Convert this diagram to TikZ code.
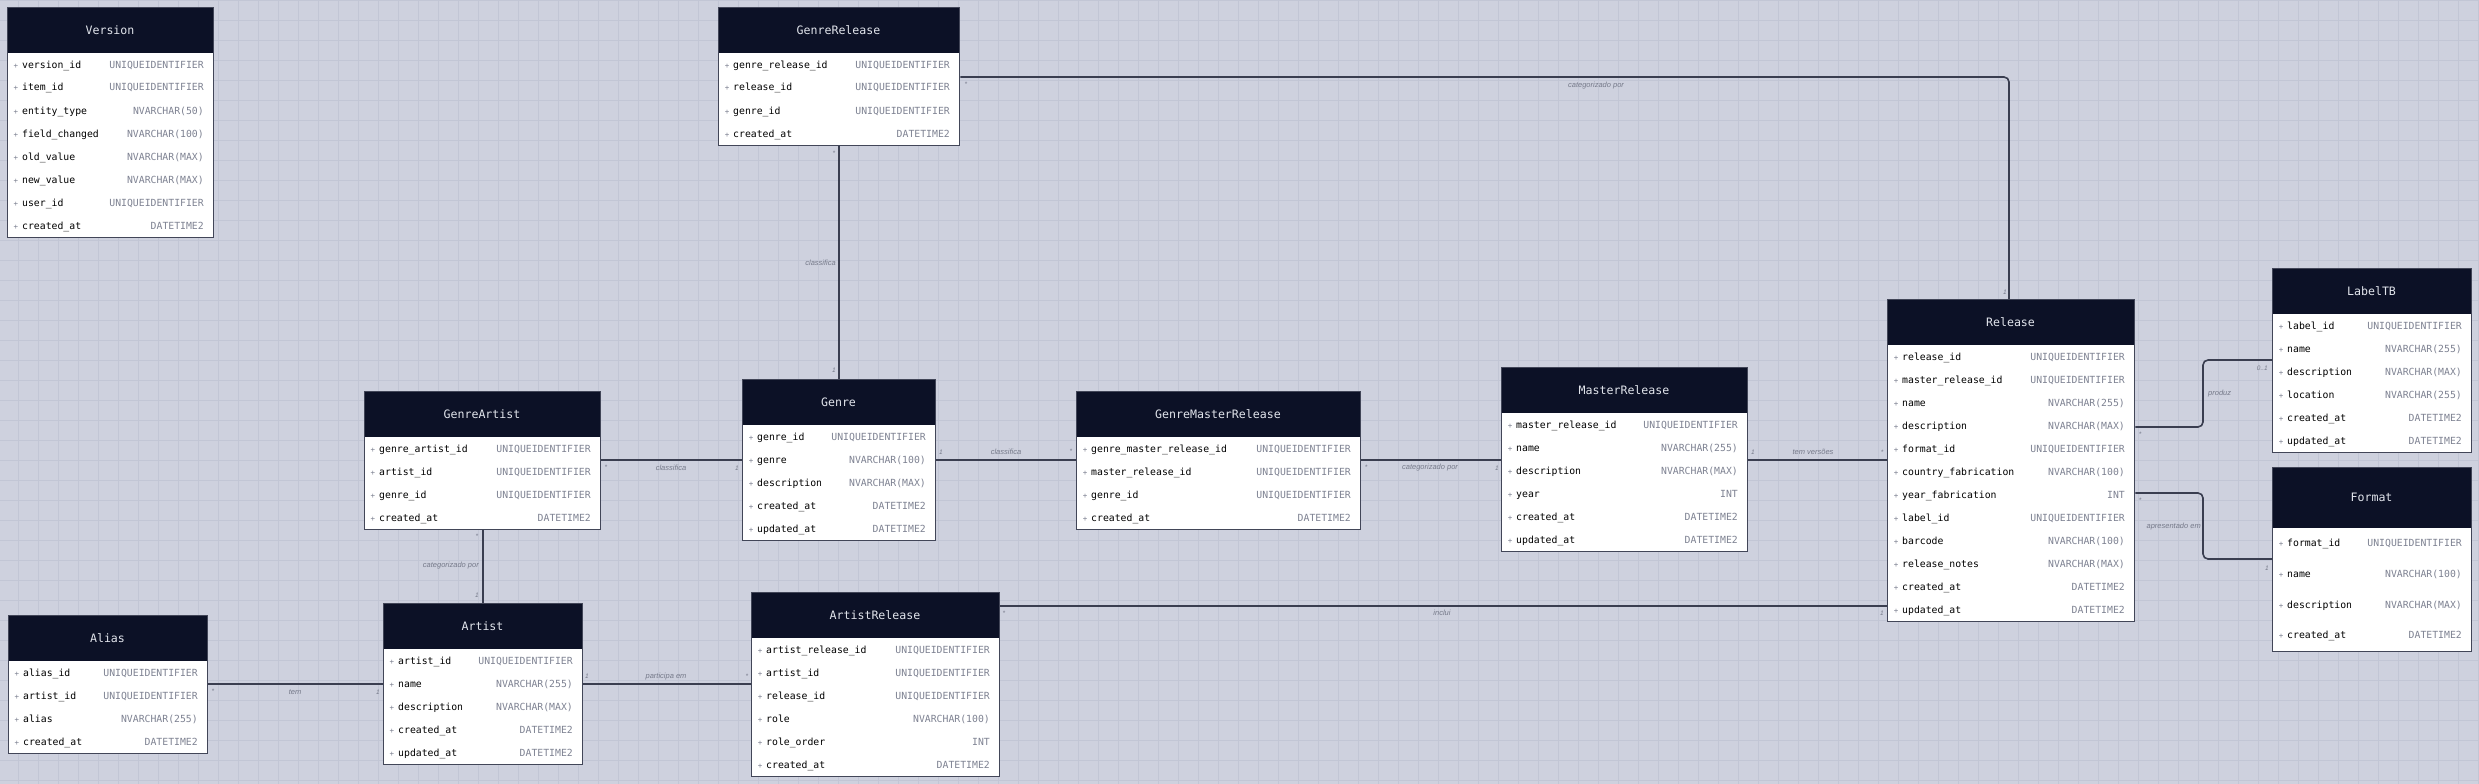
\documentclass[tikz,border=0pt]{standalone}
\usepackage{fontspec}
\setmonofont{DejaVu Sans Mono}
\setsansfont{Liberation Sans}

\definecolor{canvas}{RGB}{206,209,222}
\definecolor{gridcol}{RGB}{194,198,213}
\definecolor{headbg}{RGB}{12,17,38}
\definecolor{headfg}{RGB}{226,229,236}
\definecolor{boxline}{RGB}{66,70,88}
\definecolor{linkcol}{RGB}{58,62,80}
\definecolor{typegray}{RGB}{126,130,146}
\definecolor{lblgray}{RGB}{118,122,138}

\tikzset{
  erbox/.style={draw=boxline, line width=1.4pt, inner sep=0pt},
  erhead/.style={fill=headbg, text=headfg, inner sep=0pt,
    font=\ttfamily\fontsize{11.6}{13}\selectfont},
  erfield/.style={inner sep=0pt, text height=7pt, text depth=2pt, text=black,
    font=\ttfamily\fontsize{9.8}{11}\selectfont},
  ertype/.style={erfield, text=typegray},
  erplus/.style={erfield, text=typegray, font=\ttfamily\fontsize{7.5}{9}\selectfont},
  link/.style={draw=linkcol, line width=1.6pt},
  rel/.style={inner sep=0pt, text=lblgray, font=\sffamily\itshape\fontsize{7.5}{9}\selectfont},
  card/.style={rel, font=\sffamily\itshape\fontsize{6.5}{8}\selectfont}
}

\newcommand{\erhead}{46}
\newcommand{\erpitch}{23}
% name, left, top, width, rows, title, fields
\newcommand{\erentity}[7]{%
  \pgfmathsetmacro\erh{\erhead+#5*\erpitch}
  \fill[white] (#2,#3) rectangle ++(#4,\erh);
  \node[erhead, minimum width=#4pt, minimum height=\erhead pt] (#1-h)
    at (#2+#4/2,#3+\erhead/2) {#6};
  \foreach \fname/\ftype [count=\i] in {#7} {
    \pgfmathsetmacro\yc{#3+\erhead+\erpitch/2+1+(\i-1)*\erpitch}
    \node[erplus] (#1-p\i) at (#2+9,\yc) {+};
    \node[erfield, anchor=west] (#1-\i) at (#2+15,\yc) {\fname};
    \node[ertype, anchor=east] (#1-t\i) at (#2+#4-9,\yc) {\ftype};
  }
  \node[erbox, minimum width=#4pt, minimum height=\erh pt, anchor=north west] (#1)
    at (#2,#3) {};
}

\begin{document}
\begin{tikzpicture}[x=1pt, y=-1pt]
  \useasboundingbox (0,0) rectangle (2479,784);
  \fill[canvas] (0,0) rectangle (2479,784);
  \foreach \gx in {18,38,...,2478} \draw[gridcol, line width=0.6pt] (\gx,0) -- (\gx,784);
  \foreach \gy in {0,20,...,780} \draw[gridcol, line width=0.6pt] (0,\gy) -- (2479,\gy);

  % bends and levels of the connectors
  \coordinate (midrow) at (0,460);
  \coordinate (artrow) at (0,684);
  \coordinate (incrow) at (0,606);
  \coordinate (topbend) at (2009,77);
  \coordinate (prodA) at (2203,427);
  \coordinate (prodB) at (2203,360);
  \coordinate (apreA) at (2203,493);
  \coordinate (apreB) at (2203,559);

  \erentity{version}{7}{7}{206}{8}{Version}{version\_id/UNIQUEIDENTIFIER, item\_id/UNIQUEIDENTIFIER, entity\_type/NVARCHAR(50), field\_changed/NVARCHAR(100), old\_value/NVARCHAR(MAX), new\_value/NVARCHAR(MAX), user\_id/UNIQUEIDENTIFIER, created\_at/DATETIME2}
  \erentity{genrerelease}{718}{7}{241}{4}{GenreRelease}{genre\_release\_id/UNIQUEIDENTIFIER, release\_id/UNIQUEIDENTIFIER, genre\_id/UNIQUEIDENTIFIER, created\_at/DATETIME2}
  \erentity{genreartist}{364}{391}{236}{4}{GenreArtist}{genre\_artist\_id/UNIQUEIDENTIFIER, artist\_id/UNIQUEIDENTIFIER, genre\_id/UNIQUEIDENTIFIER, created\_at/DATETIME2}
  \erentity{genre}{742}{379}{193}{5}{Genre}{genre\_id/UNIQUEIDENTIFIER, genre/NVARCHAR(100), description/NVARCHAR(MAX), created\_at/DATETIME2, updated\_at/DATETIME2}
  \erentity{alias}{8}{615}{199}{4}{Alias}{alias\_id/UNIQUEIDENTIFIER, artist\_id/UNIQUEIDENTIFIER, alias/NVARCHAR(255), created\_at/DATETIME2}
  \erentity{artist}{383}{603}{199}{5}{Artist}{artist\_id/UNIQUEIDENTIFIER, name/NVARCHAR(255), description/NVARCHAR(MAX), created\_at/DATETIME2, updated\_at/DATETIME2}
  \erentity{artistrelease}{751}{592}{248}{6}{ArtistRelease}{artist\_release\_id/UNIQUEIDENTIFIER, artist\_id/UNIQUEIDENTIFIER, release\_id/UNIQUEIDENTIFIER, role/NVARCHAR(100), role\_order/INT, created\_at/DATETIME2}
  \erentity{genremaster}{1076}{391}{284}{4}{GenreMasterRelease}{genre\_master\_release\_id/UNIQUEIDENTIFIER, master\_release\_id/UNIQUEIDENTIFIER, genre\_id/UNIQUEIDENTIFIER, created\_at/DATETIME2}
  \erentity{master}{1501}{367}{246}{6}{MasterRelease}{master\_release\_id/UNIQUEIDENTIFIER, name/NVARCHAR(255), description/NVARCHAR(MAX), year/INT, created\_at/DATETIME2, updated\_at/DATETIME2}
  \erentity{release}{1887}{299}{247}{12}{Release}{release\_id/UNIQUEIDENTIFIER, master\_release\_id/UNIQUEIDENTIFIER, name/NVARCHAR(255), description/NVARCHAR(MAX), format\_id/UNIQUEIDENTIFIER, country\_fabrication/NVARCHAR(100), year\_fabrication/INT, label\_id/UNIQUEIDENTIFIER, barcode/NVARCHAR(100), release\_notes/NVARCHAR(MAX), created\_at/DATETIME2, updated\_at/DATETIME2}
  \erentity{labeltb}{2272}{268}{199}{6}{LabelTB}{label\_id/UNIQUEIDENTIFIER, name/NVARCHAR(255), description/NVARCHAR(MAX), location/NVARCHAR(255), created\_at/DATETIME2, updated\_at/DATETIME2}
  \renewcommand{\erhead}{61}
  \renewcommand{\erpitch}{30.7}
  \erentity{format}{2272}{467}{199}{4}{Format}{format\_id/UNIQUEIDENTIFIER, name/NVARCHAR(100), description/NVARCHAR(MAX), created\_at/DATETIME2}

  % relations
  \draw[link, rounded corners=5pt] (genrerelease.east |- topbend) -- (topbend) -- (release.north -| topbend);
  \draw[link] (genrerelease.south -| genre.north) -- (genre.north);
  \draw[link] (genreartist.east |- midrow) -- (genre.west |- midrow);
  \draw[link] (genre.east |- midrow) -- (genremaster.west |- midrow);
  \draw[link] (genremaster.east |- midrow) -- (master.west |- midrow);
  \draw[link] (master.east |- midrow) -- (release.west |- midrow);
  \draw[link] (genreartist.south -| artist.north) -- (artist.north);
  \draw[link] (alias.east |- artrow) -- (artist.west |- artrow);
  \draw[link] (artist.east |- artrow) -- (artistrelease.west |- artrow);
  \draw[link] (artistrelease.east |- incrow) -- (release.west |- incrow);
  \draw[link, rounded corners=5pt] (release.east |- prodA) -- (prodA) -- (prodB) -- (labeltb.west |- prodB);
  \draw[link, rounded corners=5pt] (release.east |- apreA) -- (apreA) -- (apreB) -- (format.west |- apreB);

  % relation texts
  \node[card] (c1a) at (966,84) {*};
  \node[rel] (r1) at (1596,86) {categorizado por};
  \node[card] (c1b) at (2005,292) {1};
  \node[card] (c2a) at (834,153) {*};
  \node[rel, anchor=east] (r2) at (836,263) {classifica};
  \node[card] (c2b) at (834,370) {1};
  \node[card] (c3a) at (606,467) {*};
  \node[rel] (r3) at (671,468) {classifica};
  \node[card] (c3b) at (737,468) {1};
  \node[card] (c4a) at (941,452) {1};
  \node[rel] (r4) at (1006,452) {classifica};
  \node[card] (c4b) at (1071,451) {*};
  \node[card] (c5a) at (1366,467) {*};
  \node[rel] (r5) at (1430,468) {categorizado por};
  \node[card] (c5b) at (1497,468) {1};
  \node[card] (c6a) at (1753,452) {1};
  \node[rel] (r6) at (1813,452) {tem versões};
  \node[card] (c6b) at (1882,452) {*};
  \node[card] (c7a) at (477,536) {*};
  \node[rel, anchor=east] (r7) at (479,566) {categorizado por};
  \node[card] (c7b) at (477,595) {1};
  \node[card] (c8a) at (213,691) {*};
  \node[rel] (r8) at (295,692) {tem};
  \node[card] (c8b) at (378,692) {1};
  \node[card] (c9a) at (587,676) {1};
  \node[rel] (r9) at (666,677) {participa em};
  \node[card] (c9b) at (747,676) {*};
  \node[card] (c10a) at (1004,613) {*};
  \node[rel] (r10) at (1442,613) {inclui};
  \node[card] (c10b) at (1882,613) {1};
  \node[card] (c11a) at (2140,434) {*};
  \node[rel, anchor=west] (r11) at (2208,394) {produz};
  \node[card, anchor=east] (c11b) at (2268,368) {0..1};
  \node[card] (c12a) at (2140,500) {*};
  \node[rel, anchor=east] (r12) at (2201,527) {apresentado em};
  \node[card] (c12b) at (2267,568) {1};
\end{tikzpicture}
\end{document}
